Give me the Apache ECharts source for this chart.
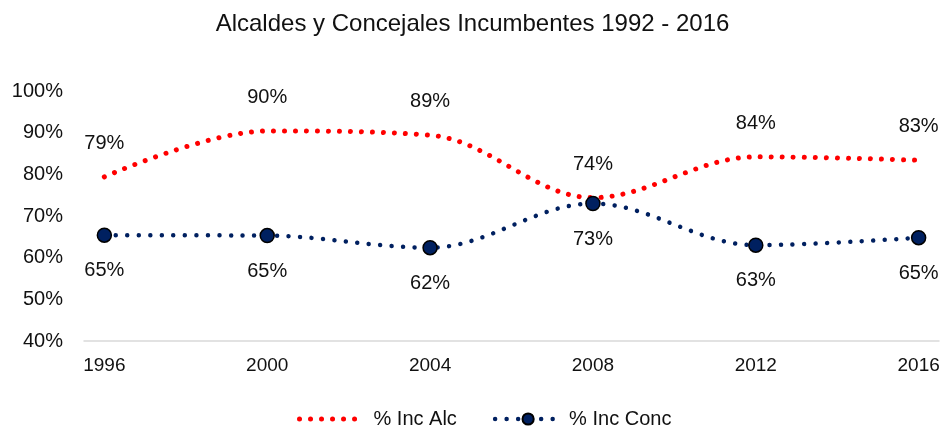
<!DOCTYPE html>
<html>
<head>
<meta charset="utf-8">
<script src="https://cdn.jsdelivr.net/npm/echarts@6/dist/echarts.min.js"></script>
<style>
  html, body { margin: 0; padding: 0; background: #fff; }
  #chart { width: 945px; height: 430px; }
</style>
</head>
<body>
<div id="chart"></div>
<script>
// datos
const years = [1996, 2000, 2004, 2008, 2012, 2016];
const incAlc = [79.4, 90.4, 89.4, 74.4, 84.2, 83.4];
const incConc = [65.4, 65.3, 62.4, 73.0, 63.0, 64.8];
const yTicks = [40, 50, 60, 70, 80, 90, 100];

const font = "Liberation Sans, Arial, sans-serif";
const pct = (p) => Math.round(p.value[1]) + "%";

const chart = echarts.init(document.getElementById("chart"));
chart.setOption({
  animation: false,
  textStyle: { fontFamily: font },
  title: {
    text: "Alcaldes y Concejales Incumbentes 1992 - 2016",
    left: "center",
    top: 7,
    textStyle: { fontFamily: font, fontSize: 24, fontWeight: "normal", color: "#111" },
  },
  grid: { left: 84, right: 6, top: 91, bottom: 89, containLabel: false },
  legend: {
    top: 409,
    left: 297,
    padding: 0,
    itemWidth: 66,
    itemHeight: 14,
    itemGap: 36,
    textStyle: { fontFamily: font, fontSize: 20, color: "#111", padding: [0, 0, 0, 3] },
    data: [
      { name: "% Inc Alc", lineStyle: { width: 5, type: [0.01, 11], cap: "round" } },
      { name: "% Inc Conc", lineStyle: { width: 4.5, type: [0.01, 11.5], cap: "round" } },
    ],
  },
  xAxis: {
    type: "value",
    min: 1995.5,
    max: 2016.5,
    splitLine: { show: false },
    axisTick: { show: false },
    axisLine: { show: true, lineStyle: { color: "#d9d9d9", width: 1.5 } },
    axisLabel: {
      customValues: years,
      fontFamily: font,
      fontSize: 19,
      color: "#111",
      margin: 15,
      formatter: (v) => String(v),
    },
  },
  yAxis: {
    type: "value",
    min: yTicks[0],
    max: yTicks[yTicks.length - 1],
    interval: 10,
    splitLine: { show: false },
    axisLine: { show: false },
    axisTick: { show: false },
    axisLabel: {
      fontFamily: font,
      fontSize: 20,
      color: "#111",
      margin: 21,
      formatter: "{value}%",
    },
  },
  series: [
    {
      name: "% Inc Alc",
      type: "line",
      smooth: 0.35,
      data: years.map((y, i) => [y, incAlc[i]]),
      symbol: "circle",
      symbolSize: 1,
      itemStyle: { color: "rgba(255,0,0,0)" },
      lineStyle: { color: "#ff0000", width: 5, type: [0.01, 11], cap: "round" },
      label: {
        show: true,
        position: "top",
        distance: 23,
        formatter: pct,
        fontFamily: font,
        fontSize: 20,
        color: "#111",
      },
      z: 2,
    },
    {
      name: "% Inc Conc",
      type: "line",
      smooth: 0.35,
      data: years.map((y, i) => [y, incConc[i]]),
      symbol: "circle",
      symbolSize: 14,
      itemStyle: { color: "#002060", borderColor: "#000", borderWidth: 1.5 },
      lineStyle: { color: "#002060", width: 4.5, type: [0.01, 11.5], cap: "round" },
      label: {
        show: true,
        position: "bottom",
        distance: 18,
        formatter: pct,
        fontFamily: font,
        fontSize: 20,
        color: "#111",
      },
      z: 3,
    },
  ],
});
</script>
</body>
</html>
